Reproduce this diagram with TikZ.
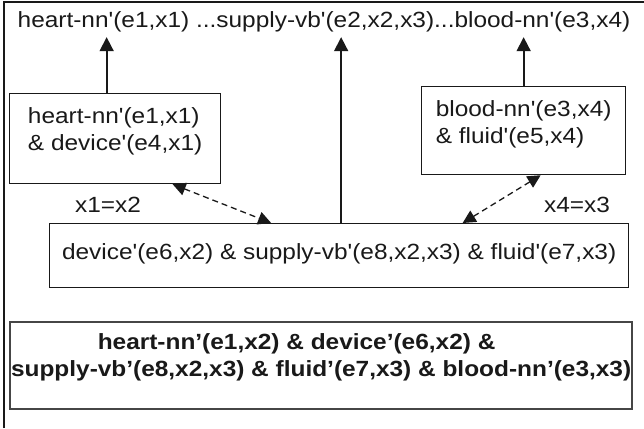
\documentclass[tikz,border=0pt]{standalone}
\usepackage{fontspec}
\setmainfont{Liberation Sans}[FakeStretch=1.11,Ligatures=TeXOff]
\usetikzlibrary{arrows.meta, positioning, calc}
\definecolor{mydark}{RGB}{25,25,25}
\definecolor{mygrey}{RGB}{70,70,70}
\tikzset{
  litbox/.style={rectangle, draw=mydark, align=left, anchor=north west,
    font=\fontsize{22}{26.7}\selectfont, line width=1.3pt, text=mydark},
  mergebox/.style={rectangle, draw=mygrey, align=center, anchor=north west,
    font=\fontsize{22}{27}\selectfont\bfseries, line width=2.2pt, text=mydark},
  eqlabel/.style={font=\fontsize{22}{26.7}\selectfont, text=mydark, inner sep=0pt},
  uparrow/.style={-{Triangle[length=14pt,width=14pt]}, line width=1.7pt, color=mydark},
  eqarrow/.style={{Triangle[length=13pt,width=13pt]}-{Triangle[length=13pt,width=13pt]},
    line width=1.3pt, dash pattern=on 6pt off 4pt, color=mydark},
  frame/.style={line width=1.5pt, color=mydark}
}
\begin{document}
\begin{tikzpicture}[x=1pt, y=-1pt]
  \useasboundingbox (0,0) rectangle (644,428);
  \draw[frame] (4,428) -- (4,2) -- (644,2);
  \node[eqlabel, anchor=base, inner ysep=4.4pt] (top) at (324,28)
    {heart-nn'(e1,x1) ...supply-vb'(e2,x2,x3)...blood-nn'(e3,x4)};
  \node[litbox, minimum width=211pt, inner ysep=14.3pt, text depth=18.7pt] (heart) at (9,93)
    {heart-nn'(e1,x1)\\\& device'(e4,x1)};
  \node[litbox, minimum width=204pt, inner ysep=14.3pt, text depth=16.7pt] (blood) at (421,86)
    {blood-nn'(e3,x4)\\\& fluid'(e5,x4)};
  \node[litbox, minimum width=579pt, minimum height=64pt, inner sep=0pt, text depth=8pt] (mid) at (49,223)
    {device'(e6,x2) \& supply-vb'(e8,x2,x3) \& fluid'(e7,x3)};
  \node[mergebox, minimum width=622pt, inner xsep=0pt, inner ysep=11pt, text depth=22pt] (merged) at (9,321)
    {heart-nn’(e1,x2) \& device’(e6,x2) \&\hspace*{49pt}\\
     supply-vb’(e8,x2,x3) \& fluid’(e7,x3) \& blood-nn’(e3,x3)};
  \node[eqlabel] (eqleft) at (108,205) {x1=x2};
  \node[eqlabel] (eqright) at (577,205) {x4=x3};
  \coordinate (hx) at ([xshift=-8.5pt]heart.north);
  \draw[uparrow] (hx) -- (hx |- top.south);
  \draw[uparrow] ([xshift=2pt]mid.north) -- ([xshift=2pt]mid.north |- top.south);
  \draw[uparrow] (blood.north) -- (blood.north |- top.south);
  \draw[eqarrow] ([xshift=57.5pt]heart.south) -- ([xshift=-68pt]mid.north);
  \draw[eqarrow] ([xshift=17pt]blood.south) -- ([xshift=123.5pt]mid.north);
\end{tikzpicture}
\end{document}
